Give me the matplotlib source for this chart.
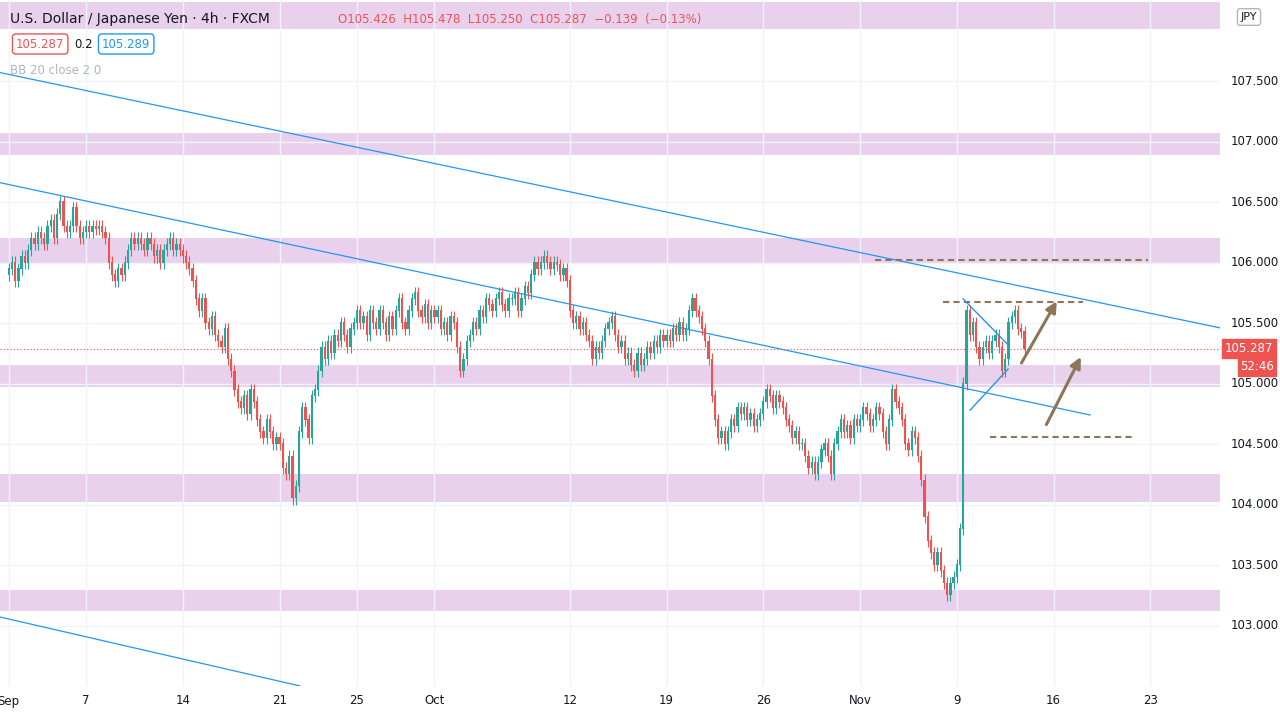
import matplotlib
matplotlib.use("Agg")
import matplotlib.pyplot as plt
from matplotlib.patches import FancyBboxPatch
import numpy as np

closes_by_day = [
 [105.95,106.0,105.85,105.95,106.05,106.0],
 [106.1,106.2,106.15,106.25,106.2,106.15],
 [106.3,106.35,106.2,106.4,106.5,106.3],
 [106.25,106.3,106.45,106.3,106.2,106.25],
 [106.3,106.25,106.3,106.28,106.3,106.25],
 [106.2,106.0,105.9,105.85,105.95,105.9],
 [106.0,106.1,106.2,106.15,106.2,106.15],
 [106.1,106.2,106.15,106.05,106.1,106.0],
 [106.1,106.15,106.2,106.1,106.15,106.1],
 [106.05,106.0,105.95,105.85,105.7,105.6],
 [105.7,105.5,105.45,105.55,105.4,105.35],
 [105.3,105.45,105.2,105.1,104.95,104.85],
 [104.8,104.9,104.75,104.95,104.85,104.7],
 [104.6,104.55,104.7,104.6,104.5,104.55],
 [104.5,104.3,104.25,104.4,104.05,104.15],
 [104.6,104.8,104.7,104.55,104.9,104.95],
 [105.1,105.3,105.2,105.35,105.25,105.4],
 [105.35,105.5,105.4,105.3,105.45,105.5],
 [105.6,105.5,105.55,105.4,105.6,105.5],
 [105.45,105.6,105.5,105.4,105.55,105.45],
 [105.6,105.7,105.5,105.45,105.6,105.7],
 [105.75,105.6,105.55,105.65,105.5,105.6],
 [105.55,105.6,105.45,105.5,105.4,105.55],
 [105.5,105.3,105.1,105.2,105.35,105.4],
 [105.5,105.45,105.6,105.55,105.7,105.65],
 [105.6,105.7,105.75,105.65,105.6,105.7],
 [105.7,105.75,105.6,105.7,105.8,105.75],
 [105.9,106.0,105.95,106.0,106.05,106.0],
 [105.95,106.0,105.98,105.9,105.95,105.85],
 [105.6,105.5,105.55,105.45,105.5,105.4],
 [105.35,105.2,105.3,105.25,105.35,105.45],
 [105.5,105.55,105.4,105.3,105.35,105.2],
 [105.25,105.15,105.1,105.25,105.15,105.2],
 [105.3,105.25,105.35,105.3,105.4,105.35],
 [105.4,105.35,105.45,105.4,105.5,105.4],
 [105.45,105.6,105.7,105.6,105.55,105.45],
 [105.35,105.2,104.9,104.7,104.55,104.6],
 [104.5,104.6,104.7,104.65,104.8,104.75],
 [104.8,104.7,104.75,104.65,104.7,104.75],
 [104.85,104.95,104.9,104.8,104.9,104.85],
 [104.8,104.7,104.65,104.55,104.6,104.5],
 [104.5,104.4,104.3,104.35,104.25,104.35],
 [104.45,104.5,104.4,104.25,104.5,104.6],
 [104.7,104.6,104.65,104.55,104.7,104.65],
 [104.7,104.8,104.75,104.65,104.7,104.8],
 [104.75,104.6,104.5,104.7,104.95,104.85],
 [104.8,104.7,104.5,104.45,104.6,104.55],
 [104.4,104.2,103.9,103.7,103.6,103.5],
 [103.6,103.45,103.35,103.25,103.35,103.4],
 [103.5,103.8,105.0,105.6,105.4,105.5],
 [105.3,105.2,105.3,105.35,105.25,105.35],
 [105.4,105.3,105.1,105.2,105.5,105.55],
 [105.6,105.45,105.426,105.287],
]
first_open = 105.9
zones = [(107.93,108.15),(106.89,107.07),(106.0,106.2),(104.97,105.15),(104.02,104.25),(103.12,103.29)]
price_ticks = [103.0,103.5,104.0,104.5,105.0,105.5,106.0,106.5,107.0,107.5]
xtick_days = [0,4,9,14,18,22,29,34,39,44,49,54,59]
xtick_labels = ["Sep","7","14","21","25","Oct","12","19","26","Nov","9","16","23"]
last_price = 105.287

closes = np.array([c for d in closes_by_day for c in d])
opens = np.concatenate([[first_open], closes[:-1]])
n = len(closes)
idx = np.arange(n)

fig = plt.figure(figsize=(12.8,7.14), dpi=100)
ax = fig.add_axes([0, 1-686/714, 1220/1280, 686/714])
ax.set_xlim(-2.7, 375.6)
ax.set_ylim(102.5, 108.17)
for lo, hi in zones:
    ax.axhspan(lo, hi, color="#e1bee7", alpha=0.7, lw=0, zorder=0)
ax.grid(color="#f0f3fa", lw=1, zorder=0)
ax.set_yticks(price_ticks)
ax.set_xticks([d*6 for d in xtick_days])
ax.tick_params(length=0, labelleft=False, labelbottom=False)
for s in ax.spines.values():
    s.set_visible(False)

up = closes >= opens
col = np.where(up, "#26a69a", "#ef5350")
hi = np.maximum(opens, closes) + 0.05
lo = np.minimum(opens, closes) - 0.05
ax.vlines(idx, lo, hi, colors=col, lw=0.8, zorder=3)
ax.bar(idx, np.abs(closes-opens)+0.005, bottom=np.minimum(opens, closes), width=0.7, color=col, zorder=4)

def px(x): return (x-8.6)/3.225
blue = "#2196f3"
ax.plot([px(0), px(1220)], [107.57, 105.46], color=blue, lw=0.9, zorder=2)
ax.plot([px(0), px(1090)], [106.66, 104.74], color=blue, lw=0.9, zorder=2)
ax.plot([px(0), px(300)], [103.07, 102.5], color=blue, lw=0.9, zorder=2)
ax.plot([px(963), px(1008)], [105.7, 105.32], color=blue, lw=1, zorder=5)
ax.plot([px(970), px(1008)], [104.78, 105.12], color=blue, lw=1, zorder=5)
brown = "#8d7558"
ax.plot([px(875), px(1148)], [106.02, 106.02], color=brown, ls=(0,(3,2)), lw=1.5)
ax.plot([px(943), px(1083)], [105.67, 105.67], color=brown, ls=(0,(3,2)), lw=1.5)
ax.plot([px(990), px(1135)], [104.56, 104.56], color=brown, ls=(0,(3,2)), lw=1.5)
for (x0,y0,x1,y1) in [(1020,105.15,1058,105.7),(1045,104.64,1082,105.24)]:
    ax.annotate("", xy=(px(x1), y1), xytext=(px(x0), y0),
                arrowprops=dict(arrowstyle="-|>", color=brown, lw=2.2, mutation_scale=16))
ax.axhline(last_price, color="#ef5350", ls=(0,(1,2)), lw=0.8)

# right price axis
for p in price_ticks:
    y = ax.transData.transform((0, p))[1]
    fig.text(1255/1280, y/714, f"{p:.3f}", ha="center", va="center", fontsize=8.5, color="#131722")
y = ax.transData.transform((0, last_price))[1]/714
fig.text(1249/1280, y, "105.287", ha="center", va="center", fontsize=8.5, color="white",
         bbox=dict(boxstyle="square,pad=0.25", fc="#ef5350", ec="#ef5350"))
fig.text(1257/1280, y-18/714, "52:46", ha="center", va="center", fontsize=8.5, color="white",
         bbox=dict(boxstyle="square,pad=0.2", fc="#ef5350", ec="#ef5350"))
fig.text(1249/1280, 697/714, "JPY", ha="center", va="center", fontsize=8, color="#131722",
         bbox=dict(boxstyle="round,pad=0.3", fc="white", ec="#b2b5be"))
for d, lab in zip(xtick_days, xtick_labels):
    x = ax.transData.transform((d*6, 0))[0]
    fig.text(x/1280, 13/714, lab, ha="center", va="center", fontsize=8.5, color="#131722")

fig.text(10/1280, 695/714, "U.S. Dollar / Japanese Yen · 4h · FXCM", fontsize=10, va="center", color="#131722")
fig.text(338/1280, 695/714, "O105.426  H105.478  L105.250  C105.287  −0.139  (−0.13%)", fontsize=8.5, va="center", color="#ef5350")
fig.text(16/1280, 670/714, "105.287", fontsize=8.5, va="center", color="#ef5350",
         bbox=dict(boxstyle="round,pad=0.3", fc="white", ec="#ef5350"))
fig.text(74/1280, 670/714, "0.2", fontsize=8.5, va="center", color="#131722")
fig.text(102/1280, 670/714, "105.289", fontsize=8.5, va="center", color="#2196f3",
         bbox=dict(boxstyle="round,pad=0.3", fc="white", ec="#2196f3"))
fig.text(10/1280, 643/714, "BB 20 close 2 0", fontsize=8.5, va="center", color="#b2b5be")
fig.savefig("out.png", dpi=100)
